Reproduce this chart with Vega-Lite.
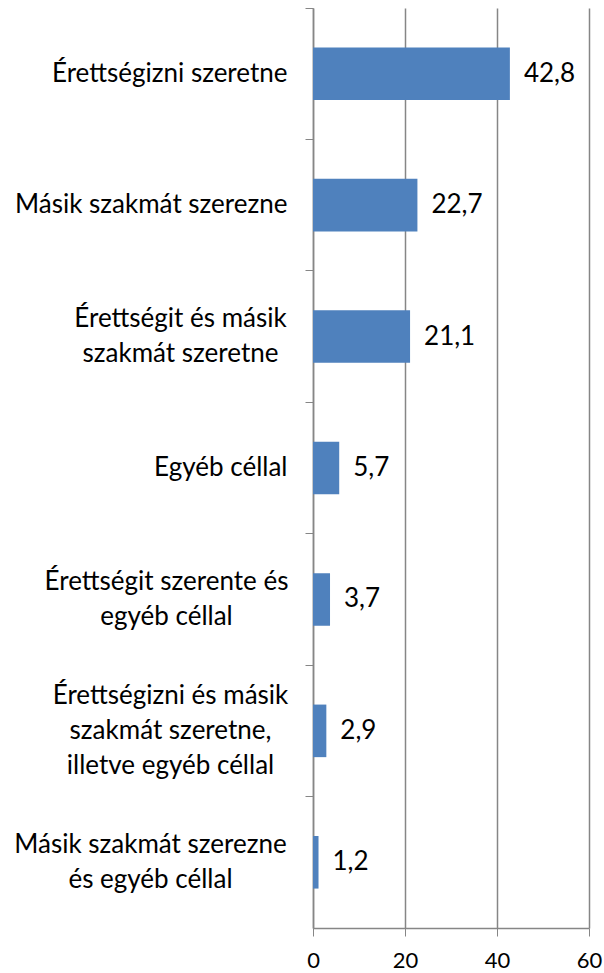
{
  "$schema": "https://vega.github.io/schema/vega-lite/v6.json",
  "width": 276,
  "height": 920,
  "autosize": {"type": "none"},
  "padding": {"left": 313, "top": 8, "right": 15, "bottom": 45},
  "config": {
    "view": {"stroke": null},
    "font": "Lato",
    "locale": {"number": {"decimal": ",", "thousands": " ", "grouping": [3], "currency": ["", ""]}}
  },
  "data": {
    "values": [
      {"cel": "Érettségizni szeretne", "ertek": 42.8},
      {"cel": "Másik szakmát szerezne", "ertek": 22.7},
      {"cel": "Érettségit és másik|szakmát szeretne", "ertek": 21.1},
      {"cel": "Egyéb céllal", "ertek": 5.7},
      {"cel": "Érettségit szerente és|egyéb céllal", "ertek": 3.7},
      {"cel": "Érettségizni és másik|szakmát szeretne,|illetve egyéb céllal", "ertek": 2.9},
      {"cel": "Másik szakmát szerezne|és egyéb céllal", "ertek": 1.2}
    ]
  },
  "encoding": {
    "y": {
      "field": "cel",
      "type": "nominal",
      "sort": null,
      "title": null,
      "scale": {"paddingInner": 0.6, "paddingOuter": 0.3},
      "axis": {
        "bandPosition": -0.75,
        "labelExpr": "split(datum.label, '|')",
        "labelFont": "Lato",
        "labelFontSize": 26,
        "labelColor": "#000000",
        "labelLineHeight": 35,
        "labelAlign": {"condition": {"test": "length(split(datum.value, '|')) > 1", "value": "center"}, "value": "right"},
        "labelOffset": {"condition": [
          {"test": "length(split(datum.value, '|')) == 3", "value": -35},
          {"test": "length(split(datum.value, '|')) == 2", "value": -17.5}
        ], "value": 0},
        "labelPadding": {"condition": [
          {"test": "datum.value == 'Érettségit és másik|szakmát szeretne'", "value": 125},
          {"test": "datum.value == 'Érettségit szerente és|egyéb céllal'", "value": 139},
          {"test": "datum.value == 'Érettségizni és másik|szakmát szeretne,|illetve egyéb céllal'", "value": 135},
          {"test": "datum.value == 'Másik szakmát szerezne|és egyéb céllal'", "value": 155}
        ], "value": 18},
        "labelLimit": 400,
        "tickSize": 8,
        "tickColor": "#868686",
        "domainColor": "#868686",
        "domainWidth": 1.5,
        "grid": false
      }
    },
    "x": {
      "field": "ertek",
      "type": "quantitative",
      "title": null,
      "scale": {"domain": [0, 60], "nice": false},
      "axis": {
        "values": [0, 20, 40, 60],
        "labelFont": "Lato",
        "labelFontSize": 22,
        "labelColor": "#000000",
        "labelPadding": 14,
        "tickSize": 8,
        "tickColor": "#868686",
        "domainColor": "#868686",
        "domainWidth": 1.5,
        "gridColor": "#868686",
        "gridWidth": 1.5,
        "grid": true,
        "labelFlush": false
      }
    }
  },
  "layer": [
    {"mark": {"type": "bar", "color": "#4F81BD"}},
    {
      "mark": {"type": "text", "align": "left", "baseline": "middle", "dx": 14, "fontSize": 26, "font": "Lato", "color": "#000000"},
      "encoding": {"text": {"field": "ertek", "type": "quantitative", "format": ".1f"}}
    }
  ]
}
